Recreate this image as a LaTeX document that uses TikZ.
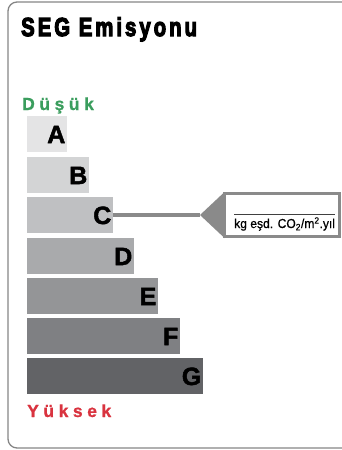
\documentclass[tikz,border=0pt]{standalone}
\usepackage{fontspec}
\setmainfont{Liberation Sans}
\usepackage{graphicx}
\definecolor{barA}{HTML}{E4E4E5}
\definecolor{barB}{HTML}{D3D4D5}
\definecolor{barC}{HTML}{BFC0C2}
\definecolor{barD}{HTML}{A9AAAC}
\definecolor{barE}{HTML}{949597}
\definecolor{barF}{HTML}{7F8083}
\definecolor{barG}{HTML}{626366}
\definecolor{framecol}{HTML}{858585}
\definecolor{tagcol}{HTML}{8A8A8A}
\definecolor{lowcol}{HTML}{3A9D5D}
\definecolor{highcol}{HTML}{D9333F}
\begin{document}
\begin{tikzpicture}[x=1pt,y=-1pt,
  bar/.style={draw=none,inner sep=0pt,outer sep=0pt,minimum height=36pt,anchor=north west},
  lettr/.style={font=\fontsize{25}{25}\selectfont\bfseries\addfontfeature{FakeBold=2},inner sep=0pt,anchor=base east},
  scalelabel/.style={inner sep=0pt,anchor=base west,font=\fontsize{17.5}{18}\selectfont\bfseries\addfontfeature{LetterSpace=26,FakeBold=0.8}},
]
\useasboundingbox (0,0) rectangle (342,450);
\clip (0,0) rectangle (342,450);
\draw[framecol,line width=1.3pt,rounded corners=9pt] (360,2) -- (8,2) -- (8,448) -- (360,448);

\node[inner sep=0pt,anchor=base west,font=\fontsize{26}{26}\selectfont\bfseries] (title) at (21,36)
  {\scalebox{0.78}[1]{\addfontfeature{LetterSpace=15,FakeBold=5}SEG Emisyonu}};

\node[scalelabel,text=lowcol] (low) at (22,110) {Düşük};
\node[scalelabel,text=highcol] (high) at (27,417) {Yüksek};

\node[bar,fill=barA,minimum width=40pt]  (A) at (27,116) {};
\node[bar,fill=barB,minimum width=62pt]  (B) at (27,157) {};
\node[bar,fill=barC,minimum width=86pt]  (C) at (27,197) {};
\node[bar,fill=barD,minimum width=107pt] (D) at (27,238) {};
\node[bar,fill=barE,minimum width=131pt] (E) at (27,278) {};
\node[bar,fill=barF,minimum width=153pt] (F) at (27,318) {};
\node[bar,fill=barG,minimum width=176pt] (G) at (27,358) {};

\foreach \b in {A,B,C,D,E,F,G}
  \node[lettr] (l\b) at ([xshift=-1.5pt,yshift=9pt]\b.south east) {\b};

\node[draw=tagcol,line width=3pt,fill=white,outer sep=0pt,inner sep=0pt,
      minimum width=115pt,minimum height=43pt,anchor=north west] (tag) at (224.5,193.5) {};
\coordinate (apex) at (200,215);
\fill[tagcol] (apex) -- ([yshift=1.5pt]tag.north west) -- ([yshift=-1.5pt]tag.south west) -- cycle;
\draw[tagcol,line width=4pt] (C.east) -- (apex);

\node[inner sep=0pt,anchor=base west,font=\fontsize{13}{13}\selectfont\addfontfeature{FakeBold=0.6}] (unit) at (234,228)
  {\scalebox{0.93}[1]{kg eşd. CO\textsubscript{2}/m\textsuperscript{2}.yıl}};
\draw[black!75,line width=0.8pt] ([yshift=3pt]unit.north west) -- ([yshift=3pt]unit.north east);
\end{tikzpicture}
\end{document}
